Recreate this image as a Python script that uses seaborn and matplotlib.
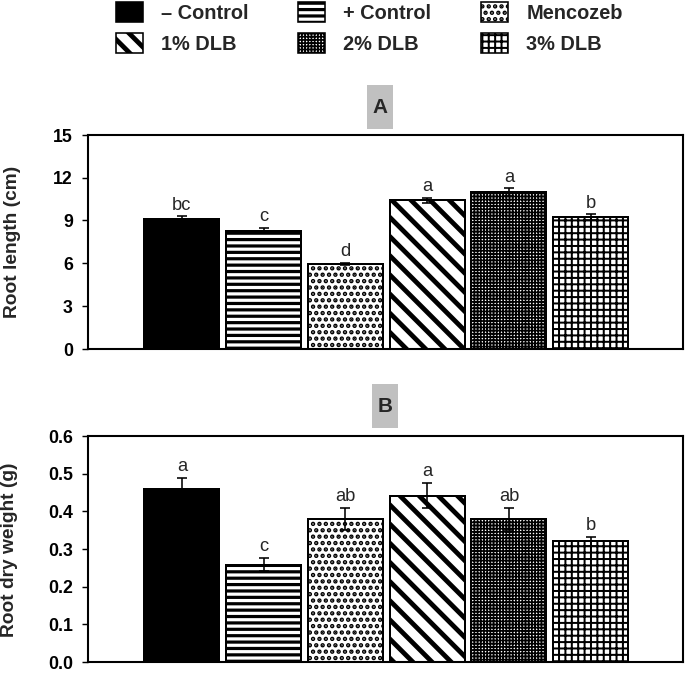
import matplotlib
matplotlib.use("Agg")
import matplotlib.pyplot as plt
from matplotlib.patches import Patch, Rectangle
import seaborn as sns
import pandas as pd

# ---------------- data ----------------
treatments = ["\u2013 Control", "+ Control", "Mencozeb", "1% DLB", "2% DLB", "3% DLB"]
root_length = [9.10, 8.28, 5.95, 10.40, 10.96, 9.24]
root_length_err = [0.18, 0.19, 0.09, 0.19, 0.28, 0.18]
root_length_letters = ["bc", "c", "d", "a", "a", "b"]
root_weight = [0.458, 0.258, 0.379, 0.441, 0.379, 0.321]
root_weight_err = [0.031, 0.017, 0.030, 0.033, 0.030, 0.012]
root_weight_letters = ["a", "c", "ab", "a", "ab", "b"]
length_ticks = [0, 3, 6, 9, 12, 15]
weight_ticks = [0.0, 0.1, 0.2, 0.3, 0.4, 0.5, 0.6]

# ---------------- style ----------------
faces = ["black", "white", "white", "white", "white", "white"]
hatches = ["", "---", "...", "\\\\", "++++++", "+++"]
hatch_lws = [1.0, 2.0, 1.9, 3.0, 1.1, 1.25]

DPI = 115
sns.set_theme(style="ticks")
plt.rcParams["font.family"] = ["Liberation Sans", "DejaVu Sans"]
plt.rcParams["hatch.linewidth"] = 1.5
plt.rcParams["axes.linewidth"] = 1.3

fig = plt.figure(figsize=(685.3 / DPI, 674.3 / DPI), dpi=DPI)
fig.patch.set_facecolor("white")


def set_hlw(p, lw):
    if hasattr(p, "set_hatch_linewidth"):
        p.set_hatch_linewidth(lw)


def panel(rect, values, errs, letters, ticks, ylabel, fmt, label_x):
    ax = fig.add_axes(rect)
    df = pd.DataFrame({"treatment": treatments, "value": values})
    sns.barplot(data=df, x="treatment", y="value", hue="treatment",
                palette=faces, saturation=1, width=0.917, edgecolor="black",
                linewidth=1.25, legend=False, ax=ax, errorbar=None)
    for p, h, lw in zip(ax.patches, hatches, hatch_lws):
        p.set_hatch(h)
        set_hlw(p, lw)
    xs = [p.get_x() + p.get_width() / 2 for p in ax.patches]
    ax.errorbar(xs, values, yerr=errs, fmt="none", ecolor="black",
                elinewidth=1.0, capsize=3.1, capthick=1.0, zorder=5)
    for x, v, e, t in zip(xs, values, errs, letters):
        ax.annotate(t, (x, v + e), xytext=(0, 2), textcoords="offset points",
                    ha="center", va="bottom", fontsize=11.5)
    ax.set_xlim(-1.143, 6.131)
    ax.set_ylim(ticks[0], ticks[-1])
    ax.set_yticks(ticks)
    ax.set_yticklabels([fmt.format(t) for t in ticks], fontsize=11.1,
                       fontweight="bold")
    ax.set_xticks([])
    ax.set_xlabel("")
    ax.set_ylabel(ylabel, fontsize=12, fontweight="bold")
    ax.yaxis.set_label_coords(label_x, 0.5)
    ax.tick_params(axis="y", direction="out", length=3.8, width=0.9, pad=6,
                   colors="black")
    for s in ax.spines.values():
        s.set_visible(True)
        s.set_color("black")
        s.set_linewidth(1.3)
    ax.set_facecolor("white")
    return ax


axA = panel([0.129, 0.4822, 0.868, 0.3175], root_length, root_length_err,
            root_length_letters, length_ticks, "Root length (cm)", "{:d}", -0.114)
axB = panel([0.129, 0.0178, 0.868, 0.3353], root_weight, root_weight_err,
            root_weight_letters, weight_ticks, "Root dry weight (g)", "{:.1f}", -0.119)

# panel title boxes
for (x0, y0, label) in [(367, 85, "A"), (372, 384, "B")]:
    fig.add_artist(Rectangle((x0 / 685, 1 - (y0 + 44) / 674), 26 / 685, 44 / 674,
                             transform=fig.transFigure, facecolor="#c0c0c0",
                             edgecolor="none"))
    fig.text((x0 + 13) / 685, 1 - (y0 + 22) / 674, label, ha="center",
             va="center", fontsize=13, fontweight="bold")

# legend (column-major order for 3 columns, 2 rows)
order = [0, 3, 1, 4, 2, 5]
handles = [Patch(facecolor=faces[i], edgecolor="black", hatch=hatches[i],
                 linewidth=1.0) for i in order]
labels = [treatments[i] for i in order]
leg = fig.legend(handles, labels, loc="upper left",
                 bbox_to_anchor=(116 / 685, 1 - 2 / 674), ncol=3, frameon=False,
                 borderpad=0, borderaxespad=0, handlelength=1.35,
                 handleheight=1.15, handletextpad=0.9, columnspacing=2.5,
                 labelspacing=0.55, prop={"weight": "bold", "size": 12.5})
for p, i in zip(leg.get_patches(), order):
    p.set_hatch(hatches[i])
    set_hlw(p, hatch_lws[i])

fig.savefig("out.png", dpi=DPI, facecolor="white")
